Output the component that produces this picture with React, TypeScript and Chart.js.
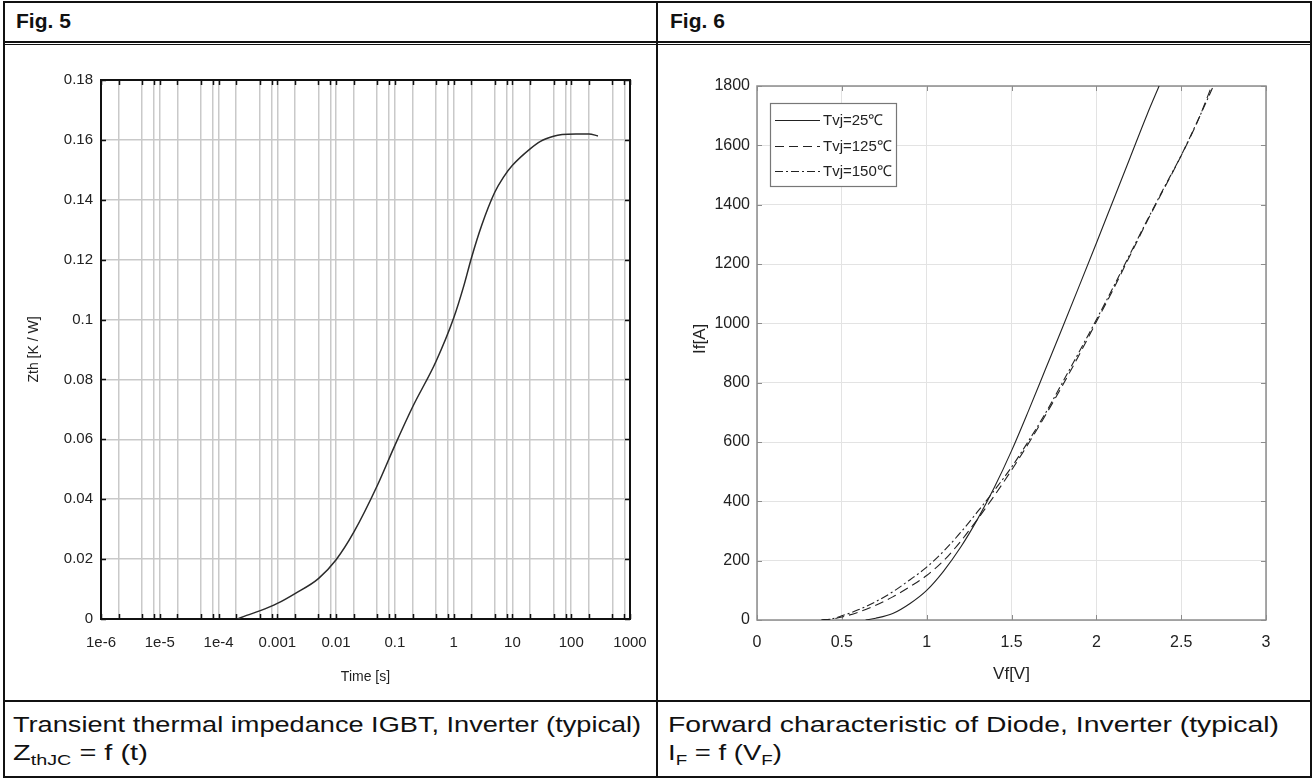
import React, { useEffect, useRef } from "react";
import { Chart, registerables } from "chart.js";

Chart.register(...registerables);

// ---------- Fig. 5 : transient thermal impedance ----------
const TIME_S = [2.1e-4, 3e-4, 5e-4, 1e-3, 2e-3, 5e-3, 1e-2, 2e-2, 5e-2, 0.1, 0.2, 0.5, 1, 1.5, 2, 3, 5, 7, 10, 20, 30, 50, 70, 120, 200, 285];
const ZTH_KW = [0, 0.0012, 0.0027, 0.0052, 0.0085, 0.0135, 0.0198, 0.029, 0.0445, 0.058, 0.0708, 0.086, 0.1005, 0.1115, 0.1205, 0.1315, 0.1425, 0.1475, 0.1515, 0.157, 0.1595, 0.1612, 0.1618, 0.162, 0.162, 0.1613];
const TIME_DECADES = [1e-6, 1e-5, 1e-4, 1e-3, 1e-2, 1e-1, 1, 10, 100, 1000];
const TIME_TICK_LABELS = ["1e-6", "1e-5", "1e-4", "0.001", "0.01", "0.1", "1", "10", "100", "1000"];
const TIME_GRID_STEPS = [1, 2, 5, 8];
const ZTH_TICKS = [0, 0.02, 0.04, 0.06, 0.08, 0.1, 0.12, 0.14, 0.16, 0.18];
const ZTH_TICK_LABELS = ["0", "0.02", "0.04", "0.06", "0.08", "0.1", "0.12", "0.14", "0.16", "0.18"];

// ---------- Fig. 6 : diode forward characteristic ----------
const VF_25 = [0.64, 0.7, 0.8, 0.9, 1.0, 1.1, 1.2, 1.3, 1.4, 1.5, 1.6, 1.7, 1.8, 1.9, 2.0, 2.1, 2.2, 2.3, 2.37];
const IF_25 = [0, 6, 22, 55, 100, 165, 245, 340, 448, 570, 705, 845, 985, 1127, 1270, 1415, 1560, 1705, 1800];
const VF_125 = [0.38, 0.45, 0.5, 0.6, 0.7, 0.8, 0.9, 1.0, 1.1, 1.2, 1.3, 1.4, 1.5, 1.6, 1.7, 1.8, 1.9, 2.0, 2.1, 2.2, 2.3, 2.4, 2.5, 2.6, 2.68];
const IF_125 = [0, 4, 10, 27, 50, 78, 112, 150, 200, 265, 340, 420, 505, 595, 690, 790, 895, 1005, 1115, 1230, 1345, 1455, 1565, 1685, 1800];
const VF_150 = [0.38, 0.45, 0.5, 0.6, 0.7, 0.8, 0.9, 1.0, 1.1, 1.2, 1.3, 1.4, 1.5, 1.6, 1.7, 1.8, 1.9, 2.0, 2.1, 2.2, 2.3, 2.4, 2.5, 2.6, 2.69];
const IF_150 = [0, 5, 14, 35, 62, 95, 135, 178, 232, 295, 365, 438, 515, 603, 697, 800, 905, 1012, 1122, 1235, 1348, 1458, 1566, 1686, 1800];
const SERIES_LABELS = ["Tvj=25\u2103", "Tvj=125\u2103", "Tvj=150\u2103"];
const VF_TICKS = [0, 0.5, 1, 1.5, 2, 2.5, 3];
const VF_TICK_LABELS = ["0", "0.5", "1", "1.5", "2", "2.5", "3"];
const IF_TICKS = [0, 200, 400, 600, 800, 1000, 1200, 1400, 1600, 1800];
const IF_TICK_LABELS = ["0", "200", "400", "600", "800", "1000", "1200", "1400", "1600", "1800"];

const NARROW = '"Liberation Sans Narrow", "Arial Narrow", "Liberation Sans", Arial, sans-serif';
const SANS = '"Liberation Sans", Arial, Helvetica, sans-serif';

const framePlugin = {
  id: "frameTicks",
  beforeDatasetsDraw(chart: any, _args: any, opts: any) {
    if (!opts || !opts.enabled) return;
    const { ctx, chartArea: a, scales } = chart;
    const L = opts.tickLen;
    ctx.save();
    ctx.strokeStyle = opts.tickColor;
    ctx.lineWidth = opts.tickWidth;
    ctx.beginPath();
    scales.x.ticks.forEach((t: any) => {
      const px = Math.round(scales.x.getPixelForValue(t.value)) + 0.5;
      ctx.moveTo(px, a.bottom);
      ctx.lineTo(px, a.bottom - L);
      ctx.moveTo(px, a.top);
      ctx.lineTo(px, a.top + L);
    });
    scales.y.ticks.forEach((t: any) => {
      const py = Math.round(scales.y.getPixelForValue(t.value)) + 0.5;
      ctx.moveTo(a.left, py);
      ctx.lineTo(a.left + L, py);
      ctx.moveTo(a.right, py);
      ctx.lineTo(a.right - L, py);
    });
    ctx.stroke();
    ctx.strokeStyle = opts.color;
    ctx.lineWidth = opts.width;
    ctx.strokeRect(a.left, a.top, a.right - a.left, a.bottom - a.top);
    ctx.restore();
  },
};

const boxLegendPlugin = {
  id: "boxLegend",
  afterDraw(chart: any, _args: any, opts: any) {
    if (!opts || !opts.enabled) return;
    const { ctx, chartArea: a } = chart;
    const x0 = a.left + opts.offsetX;
    const y0 = a.top + opts.offsetY;
    ctx.save();
    ctx.fillStyle = "#ffffff";
    ctx.fillRect(x0, y0, opts.w, opts.h);
    ctx.strokeStyle = opts.borderColor;
    ctx.lineWidth = 1.2;
    ctx.strokeRect(x0 + 0.5, y0 + 0.5, opts.w, opts.h);
    chart.data.datasets.forEach((ds: any, i: number) => {
      const y = Math.round(y0 + opts.firstRow + i * opts.rowGap) + 0.5;
      ctx.setLineDash(ds.borderDash || []);
      ctx.strokeStyle = ds.borderColor;
      ctx.lineWidth = 1;
      ctx.beginPath();
      ctx.moveTo(x0 + 5, y);
      ctx.lineTo(x0 + 5 + opts.lineLen, y);
      ctx.stroke();
      ctx.setLineDash([]);
      ctx.fillStyle = "#222";
      ctx.font = opts.font;
      ctx.textBaseline = "middle";
      ctx.textAlign = "left";
      ctx.fillText(ds.label, x0 + 8 + opts.lineLen, y);
    });
    ctx.restore();
  },
};

function buildTimeGrid() {
  const out: number[] = [];
  TIME_DECADES.forEach((d, i) => {
    if (i === TIME_DECADES.length - 1) out.push(d);
    else TIME_GRID_STEPS.forEach((m) => out.push(m * d));
  });
  return out;
}

function ZthChart() {
  const ref = useRef<HTMLCanvasElement | null>(null);
  useEffect(() => {
    if (!ref.current) return;
    const grid = buildTimeGrid();
    const chart = new Chart(ref.current, {
      type: "line",
      data: {
        datasets: [
          {
            label: "Zth",
            data: TIME_S.map((t, i) => ({ x: t, y: ZTH_KW[i] })),
            borderColor: "#2b2b2b",
            borderWidth: 1.5,
            pointRadius: 0,
            cubicInterpolationMode: "monotone",
            fill: false,
          },
        ],
      },
      options: {
        animation: false,
        responsive: true,
        maintainAspectRatio: false,
        devicePixelRatio: 1,
        layout: { padding: { top: 18, right: 18, left: 0, bottom: 0 } },
        plugins: {
          legend: { display: false },
          tooltip: { enabled: false },
          frameTicks: { enabled: true, color: "#111", width: 2, tickColor: "#111", tickWidth: 1.5, tickLen: 5 },
        } as any,
        scales: {
          x: {
            type: "logarithmic",
            min: 1e-6,
            max: 1000,
            afterBuildTicks: (s: any) => {
              s.ticks = grid.map((v) => ({ value: v }));
            },
            afterFit: (s: any) => {
              s.height = 73;
            },
            grid: { color: "#c9c9c9", lineWidth: 1.5, drawTicks: true, tickLength: 15, tickColor: "rgba(0,0,0,0)" },
            border: { display: false },
            ticks: {
              autoSkip: false,
              maxRotation: 0,
              padding: 0,
              color: "#222",
              font: { family: NARROW, size: 15 },
              callback: (_v: any, i: number) => (i % TIME_GRID_STEPS.length === 0 ? TIME_TICK_LABELS[i / TIME_GRID_STEPS.length] : ""),
            },
            title: { display: true, text: "Time [s]", color: "#222", font: { family: NARROW, size: 14 }, padding: { top: 0, bottom: 6 } },
          },
          y: {
            type: "linear",
            min: 0,
            max: 0.18,
            afterBuildTicks: (s: any) => {
              s.ticks = ZTH_TICKS.map((v) => ({ value: v }));
            },
            afterFit: (s: any) => {
              s.width = 93;
            },
            grid: { color: "#c9c9c9", lineWidth: 1.5, drawTicks: false },
            border: { display: false },
            ticks: {
              autoSkip: false,
              padding: 8,
              color: "#222",
              font: { family: NARROW, size: 15 },
              callback: (_v: any, i: number) => ZTH_TICK_LABELS[i],
            },
            title: { display: true, text: "Zth [K / W]", color: "#222", font: { family: NARROW, size: 14 }, padding: { top: 18, bottom: 0 } },
          },
        },
      } as any,
      plugins: [framePlugin],
    });
    return () => chart.destroy();
  }, []);
  return (
    <div style={{ position: "absolute", left: 8, top: 62, width: 640, height: 630 }}>
      <canvas ref={ref} />
    </div>
  );
}

function DiodeChart() {
  const ref = useRef<HTMLCanvasElement | null>(null);
  useEffect(() => {
    if (!ref.current) return;
    const mk = (xs: number[], ys: number[]) => xs.map((v, i) => ({ x: v, y: ys[i] }));
    const chart = new Chart(ref.current, {
      type: "line",
      data: {
        datasets: [
          { label: SERIES_LABELS[0], data: mk(VF_25, IF_25), borderColor: "#222", borderWidth: 1.1, borderDash: [], pointRadius: 0, cubicInterpolationMode: "monotone", fill: false },
          { label: SERIES_LABELS[1], data: mk(VF_125, IF_125), borderColor: "#222", borderWidth: 1.1, borderDash: [9, 5], pointRadius: 0, cubicInterpolationMode: "monotone", fill: false },
          { label: SERIES_LABELS[2], data: mk(VF_150, IF_150), borderColor: "#222", borderWidth: 1.1, borderDash: [8, 3, 2, 3], pointRadius: 0, cubicInterpolationMode: "monotone", fill: false },
        ],
      },
      options: {
        animation: false,
        responsive: true,
        maintainAspectRatio: false,
        devicePixelRatio: 1,
        layout: { padding: { top: 24, right: 42, left: 0, bottom: 0 } },
        plugins: {
          legend: { display: false },
          tooltip: { enabled: false },
          frameTicks: { enabled: true, color: "#8c8c8c", width: 1.5, tickColor: "#8c8c8c", tickWidth: 1, tickLen: 5 },
          boxLegend: { enabled: true, offsetX: 13, offsetY: 17, w: 126, h: 83, firstRow: 17, rowGap: 25.5, lineLen: 45, borderColor: "#777", font: `15px ${NARROW}` },
        } as any,
        scales: {
          x: {
            type: "linear",
            min: 0,
            max: 3,
            afterBuildTicks: (s: any) => {
              s.ticks = VF_TICKS.map((v) => ({ value: v }));
            },
            afterFit: (s: any) => {
              s.height = 72;
            },
            grid: { color: "#e3e3e3", lineWidth: 1, drawTicks: false },
            border: { display: false },
            ticks: {
              autoSkip: false,
              maxRotation: 0,
              padding: 13,
              color: "#222",
              font: { family: NARROW, size: 16 },
              callback: (_v: any, i: number) => VF_TICK_LABELS[i],
            },
            title: { display: true, text: "Vf[V]", color: "#222", font: { family: NARROW, size: 17 }, padding: { top: 0, bottom: 7 } },
          },
          y: {
            type: "linear",
            min: 0,
            max: 1800,
            afterBuildTicks: (s: any) => {
              s.ticks = IF_TICKS.map((v) => ({ value: v }));
            },
            afterFit: (s: any) => {
              s.width = 95;
            },
            grid: { color: "#e3e3e3", lineWidth: 1, drawTicks: false },
            border: { display: false },
            ticks: {
              autoSkip: false,
              padding: 7,
              color: "#222",
              font: { family: NARROW, size: 16 },
              callback: (_v: any, i: number) => IF_TICK_LABELS[i],
            },
            title: { display: true, text: "      If[A]", color: "#222", font: { family: NARROW, size: 17 }, padding: { top: 28, bottom: 0 } },
          },
        },
      } as any,
      plugins: [framePlugin, boxLegendPlugin],
    });
    return () => chart.destroy();
  }, []);
  return (
    <div style={{ position: "absolute", left: 662, top: 62, width: 646, height: 630 }}>
      <canvas ref={ref} />
    </div>
  );
}

const line = (left: number, top: number, width: number, height: number) => (
  <div style={{ position: "absolute", left, top, width, height, background: "#111" }} />
);

export default function App() {
  useEffect(() => {
    document.body.style.margin = "0";
  }, []);
  const cap: React.CSSProperties = { position: "absolute", fontFamily: SANS, fontSize: 22, color: "#111", whiteSpace: "nowrap", lineHeight: "26px", transformOrigin: "0 50%" };
  const head: React.CSSProperties = { position: "absolute", fontFamily: SANS, fontSize: 21, fontWeight: "bold", color: "#111", whiteSpace: "nowrap", lineHeight: "24px" };
  const sub: React.CSSProperties = { fontSize: 15, verticalAlign: "-5px", lineHeight: 0 };
  return (
    <div style={{ position: "absolute", left: 0, top: 0, width: 1314, height: 779, background: "#fff", overflow: "hidden" }}>
      {/* table borders */}
      {line(3, 1, 1309, 2)}
      {line(3, 1, 2, 777)}
      {line(1310, 1, 2, 777)}
      {line(3, 776, 1309, 2)}
      {line(3, 41, 1309, 2)}
      {line(3, 44, 1309, 1)}
      {line(656, 1, 2, 777)}
      {line(3, 700, 1309, 2)}
      {/* headers */}
      <div style={{ ...head, left: 16, top: 9 }}>Fig. 5</div>
      <div style={{ ...head, left: 670, top: 9 }}>Fig. 6</div>
      {/* charts */}
      <ZthChart />
      <DiodeChart />
      {/* captions */}
      <div style={{ ...cap, left: 13, top: 712, transform: "scaleX(1.234)" }}>Transient thermal impedance IGBT, Inverter (typical)</div>
      <div style={{ ...cap, left: 13, top: 740, transform: "scaleX(1.317)" }}>
        Z<sub style={sub}>thJC</sub> = f (t)
      </div>
      <div style={{ ...cap, left: 668, top: 712, transform: "scaleX(1.288)" }}>Forward characteristic of Diode, Inverter (typical)</div>
      <div style={{ ...cap, left: 668, top: 740, transform: "scaleX(1.25)" }}>
        I<sub style={sub}>F</sub> = f (V<sub style={sub}>F</sub>)
      </div>
    </div>
  );
}
